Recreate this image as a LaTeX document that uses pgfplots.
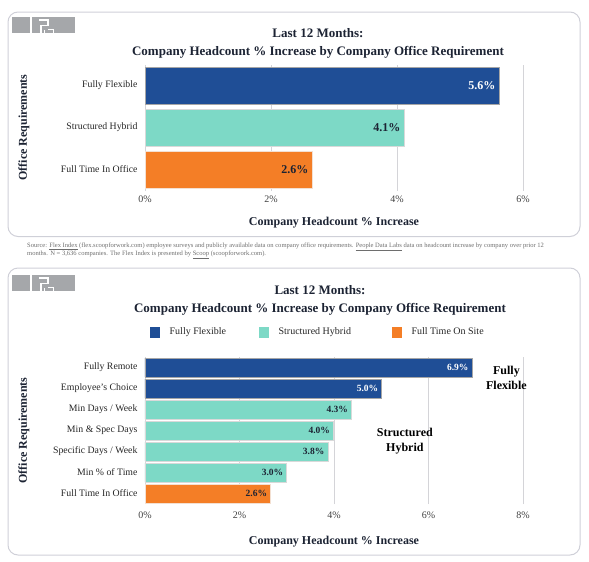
\documentclass[border=0pt]{standalone}
\usepackage{pgfplots}
\pgfplotsset{compat=1.18}
\usepackage{fontspec}
\setmainfont{Liberation Serif}
\definecolor{ffblue}{HTML}{1F4E96}
\definecolor{shteal}{HTML}{7DD9C6}
\definecolor{ftorange}{HTML}{F47E26}
\definecolor{titlec}{HTML}{1C2333}
\definecolor{panelc}{HTML}{CFD0D8}
\definecolor{logoc}{HTML}{A5A7AA}
\definecolor{srcc}{HTML}{6E6E6E}
\definecolor{gridc}{HTML}{D4D4D8}
\pgfplotsset{
  common/.style={
    scale only axis, width=378pt, clip=false,
    xmin=0, axis line style={draw=none}, major tick length=0pt,
    xmajorgrids, grid style={gridc, line width=0.9pt},
    ytick style={draw=none}, xtick style={draw=none},
    yticklabel style={font=\fontsize{9.8}{11}\selectfont, text=black!85, anchor=east, xshift=-4pt},
    xticklabel style={font=\fontsize{10}{12}\selectfont, text=black!75, anchor=base},
    xlabel={Company Headcount \% Increase},
    ylabel={Office Requirements},
    xlabel style={font=\fontsize{12}{14}\selectfont\bfseries, text=titlec, at={(axis description cs:0.5,0)}, anchor=base},
    ylabel style={font=\fontsize{12}{14}\selectfont\bfseries, text=titlec, at={(axis description cs:-0.3201,0.5)}, anchor=center},
    point meta=explicit symbolic,
    nodes near coords, nodes near coords align={anchor=east},
  },
}
\begin{document}
\begin{tikzpicture}[x=1pt,y=1pt]
\useasboundingbox (0,0) rectangle (589,-562);
% panels
\draw[panelc, line width=1pt, rounded corners=10pt] (8,-12) rectangle (580,-236.5);
\draw[panelc, line width=1pt, rounded corners=10pt] (8,-268) rectangle (580,-555);
% logos
\foreach \yy in {0,258}{
  \begin{scope}[yshift=-\yy pt]
  \fill[logoc] (12,-16.7) rectangle (75,-33.3);
  \draw[white, line width=1.6pt] (31,-16.7) -- (31,-33.3);
  \draw[white, line width=1.1pt] (39,-20) -- (48,-20) -- (48,-25.5) -- (41,-25.5) -- (41,-33.3);
  \draw[white, line width=1.0pt] (48,-29.5) -- (53,-29.5) -- (53,-33.3);
  \draw[white, line width=1.0pt] (44,-30) -- (44,-33.3);
  \end{scope}
}
% titles
\node[anchor=base, font=\fontsize{13}{15}\selectfont\bfseries, text=titlec] at (318,-37.5) {Last 12 Months:};
\node[anchor=base, font=\fontsize{13}{15}\selectfont\bfseries, text=titlec] at (318,-55.5) {Company Headcount \% Increase by Company Office Requirement};
\node[anchor=base, font=\fontsize{13}{15}\selectfont\bfseries, text=titlec] at (320,-294.5) {Last 12 Months:};
\node[anchor=base, font=\fontsize{13}{15}\selectfont\bfseries, text=titlec] at (320,-312) {Company Headcount \% Increase by Company Office Requirement};
% source
\node[anchor=base west, inner sep=0pt, font=\fontsize{6.55}{8}\selectfont, text=srcc] at (27,-247.3) {Source: \underline{Flex Index} (flex.scoopforwork.com) employee surveys and publicly available data on company office requirements. \underline{People Data Labs} data on headcount increase by company over prior 12};
\node[anchor=base west, inner sep=0pt, font=\fontsize{6.55}{8}\selectfont, text=srcc] at (27,-255.3) {months. N = 3,636 companies. The Flex Index is presented by \underline{Scoop} (scoopforwork.com).};

% top chart
\begin{axis}[common, at={(145pt,-190.5pt)}, anchor=south west,
  height=126pt, xmax=6, ymin=-0.5, ymax=2.5,
  xtick={0,2,4,6}, xticklabels={0\%,2\%,4\%,6\%},
  ytick={0,1,2}, yticklabels={Full Time In Office,Structured Hybrid,Fully Flexible},
  xticklabel style={yshift=-11.9pt},
  xlabel style={yshift=-34.5pt},
  every node near coord/.append style={font=\fontsize{12}{14}\selectfont\bfseries},
]
\addplot[xbar, bar width=37pt, bar shift=0pt, fill=ffblue, draw=black!35, line width=0.5pt,
  every node near coord/.append style={text=white}] coordinates {(5.62,2) [5.6\%]};
\addplot[xbar, bar width=37pt, bar shift=0pt, fill=shteal, draw=black!15, line width=0.5pt,
  every node near coord/.append style={text=titlec}] coordinates {(4.11,1) [4.1\%]};
\addplot[xbar, bar width=37pt, bar shift=0pt, fill=ftorange, draw=ftorange!80!black!20, line width=0.5pt,
  every node near coord/.append style={text=titlec}] coordinates {(2.65,0) [2.6\%]};
\end{axis}

% bottom chart
\begin{axis}[common, at={(145pt,-504pt)}, anchor=south west,
  height=147pt, xmax=8, ymin=-0.5, ymax=6.5,
  xtick={0,2,4,6,8}, xticklabels={0\%,2\%,4\%,6\%,8\%},
  ytick={0,1,2,3,4,5,6},
  yticklabels={Full Time In Office,Min \% of Time,Specific Days / Week,Min \& Spec Days,Min Days / Week,Employee's Choice,Fully Remote},
  xticklabel style={yshift=-14.4pt},
  xlabel style={yshift=-40.3pt},
  every node near coord/.append style={font=\fontsize{9.5}{11}\selectfont\bfseries},
  legend columns=3,
  legend style={draw=none, fill=none, inner sep=0pt, anchor=west, at={(0.0132,1.170)},
    font=\fontsize{10}{12}\selectfont, text=black!85,
    /tikz/every even column/.append style={column sep=31pt},
    /tikz/every odd column/.append style={column sep=8pt}},
]
\addplot[xbar, bar width=19pt, bar shift=0pt, fill=ffblue, draw=black!35, line width=0.5pt,
  every node near coord/.append style={text=white},
  legend image code/.code={\fill[ffblue] (0pt,-5pt) rectangle (9pt,5pt);}]
  coordinates {(6.92,6) [6.9\%] (5.01,5) [5.0\%]};
\addlegendentry{Fully Flexible}
\addplot[xbar, bar width=19pt, bar shift=0pt, fill=shteal, draw=black!15, line width=0.5pt,
  every node near coord/.append style={text=titlec},
  legend image code/.code={\fill[shteal] (0pt,-5pt) rectangle (9pt,5pt);}]
  coordinates {(4.37,4) [4.3\%] (3.99,3) [4.0\%] (3.87,2) [3.8\%] (3.0,1) [3.0\%]};
\addlegendentry{Structured Hybrid\rule{8pt}{0pt}}
\addplot[xbar, bar width=19pt, bar shift=0pt, fill=ftorange, draw=ftorange!80!black!20, line width=0.5pt,
  every node near coord/.append style={text=titlec},
  legend image code/.code={\fill[ftorange] (0pt,-5pt) rectangle (9pt,5pt);}]
  coordinates {(2.66,0) [2.6\%]};
\addlegendentry{Full Time On Site}
\node[font=\fontsize{12}{15}\selectfont\bfseries, text=black, align=center] at (axis cs:7.65,5.52) {Fully\\Flexible};
\node[font=\fontsize{12}{15}\selectfont\bfseries, text=black, align=center] at (axis cs:5.50,2.50) {Structured\\Hybrid};
\end{axis}
\end{tikzpicture}
\end{document}
